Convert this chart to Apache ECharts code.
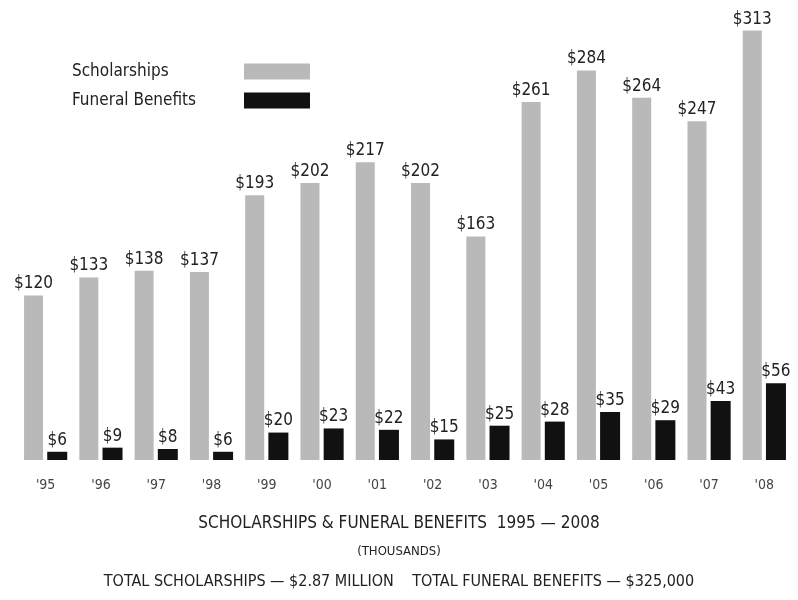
<!DOCTYPE html>
<html><head><meta charset="utf-8">
<script src="https://cdn.jsdelivr.net/npm/echarts@6/dist/echarts.min.js"></script>
<style>html,body{margin:0;padding:0;background:#fff}#c{width:798px;height:600px}</style>
</head><body><div id="c"></div>
<script>
const categories = ["'95","'96","'97","'98","'99","'00","'01","'02","'03","'04","'05","'06","'07","'08"];
const scholarships = [120,133,138,137,193,202,217,202,163,261,284,264,247,313];
const funeral = [6,9,8,6,20,23,22,15,25,28,35,29,43,56];

const FONT = "'Liberation Sans Narrow','DejaVu Sans Condensed','Open Sans',sans-serif";
const chart = echarts.init(document.getElementById('c'));
const lbl = {show:true, position:'top', distance:3, formatter: p => '$' + p.value, color:'#222', fontSize:17, fontFamily:FONT};
chart.setOption({
  animation:false,
  backgroundColor:'#fff',
  title:[
    {text:'SCHOLARSHIPS & FUNERAL BENEFITS  1995 — 2008', left:'center', top:510, textStyle:{fontFamily:FONT, fontWeight:'normal', fontSize:17, color:'#222'}},
    {text:'(THOUSANDS)', left:'center', top:540, textStyle:{fontFamily:FONT, fontWeight:'normal', fontSize:13, color:'#222'}},
    {text:'TOTAL SCHOLARSHIPS — $2.87 MILLION    TOTAL FUNERAL BENEFITS — $325,000', left:'center', top:569, textStyle:{fontFamily:FONT, fontWeight:'normal', fontSize:16, color:'#222'}}
  ],
  legend:{
    orient:'vertical', left:67, top:58, align:'right', icon:'rect', itemWidth:66, itemHeight:16, itemGap:12,
    formatter: n => '{a|' + n + '}',
    textStyle:{fontFamily:FONT, fontSize:17, color:'#222', rich:{a:{width:167, align:'left', fontSize:17, fontFamily:FONT, color:'#222'}}},
    data:['Scholarships','Funeral Benefits']
  },
  grid:{left:18, right:6, top:21, bottom:140, containLabel:false},
  xAxis:{type:'category', data:categories, axisLine:{show:false}, axisTick:{show:false},
    axisLabel:{color:'#444', fontSize:14, fontFamily:FONT, margin:18}},
  yAxis:{type:'value', min:0, max:320, show:false, splitLine:{show:false}},
  series:[
    {name:'Scholarships', type:'bar', data:scholarships, barWidth:19, barGap:'22%', itemStyle:{color:'#b9b9b9'}, label:lbl},
    {name:'Funeral Benefits', type:'bar', data:funeral, barWidth:20, itemStyle:{color:'#111'}, label:lbl}
  ]
});
</script></body></html>
